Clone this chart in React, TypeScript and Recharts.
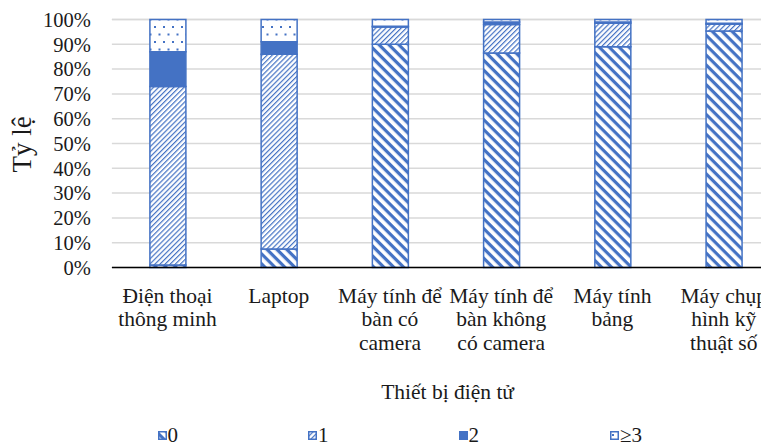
import { BarChart, Bar, XAxis, YAxis, CartesianGrid } from "recharts";

// Devices (line breaks mark where the axis label wraps)
const categories = [
  "Điện thoại\nthông minh",
  "Laptop",
  "Máy tính để\nbàn có\ncamera",
  "Máy tính để\nbàn không\ncó camera",
  "Máy tính\nbảng",
  "Máy chụp\nhình kỹ\nthuật số",
];

// Share of respondents (%) owning 0 / 1 / 2 / ≥3 of each device
const zero = [1, 7.5, 90, 86.5, 89, 95.4];
const one = [72, 78.5, 7, 11.5, 9.5, 2.7];
const two = [14, 5, 0.3, 1, 0.5, 0.4];
const threePlus = [13, 9, 2.7, 1, 1, 1.5];

const yTicks = [0, 10, 20, 30, 40, 50, 60, 70, 80, 90, 100];

const seriesNames = ["0", "1", "2", "≥3"];

const data = categories.map((name, i) => ({
  name,
  zero: zero[i],
  one: one[i],
  two: two[i],
  threePlus: threePlus[i],
}));

const BLUE = "#4472C4";
const FONT = "'Liberation Serif', 'Times New Roman', serif";
const TEXT = "#1a1a1a";

const fills = ["url(#pZero)", "url(#pOne)", BLUE, "url(#pThree)"];

function Patterns() {
  return (
    <defs>
      <pattern id="pZero" width="7" height="7" patternUnits="userSpaceOnUse" patternTransform="rotate(45)">
        <rect width="7" height="7" fill="#fff" />
        <rect width="7" height="3.2" fill={BLUE} />
      </pattern>
      <pattern id="pOne" width="3.6" height="3.6" patternUnits="userSpaceOnUse" patternTransform="rotate(-45)">
        <rect width="3.6" height="3.6" fill="#fff" />
        <rect width="3.6" height="1.2" fill={BLUE} />
      </pattern>
      <pattern id="pThree" width="9" height="15" patternUnits="userSpaceOnUse">
        <rect width="9" height="15" fill="#fff" />
        <rect x="2" y="3" width="2" height="2" fill={BLUE} />
        <rect x="6.5" y="10.5" width="2" height="2" fill={BLUE} />
      </pattern>
    </defs>
  );
}

function CategoryTick({ x, y, payload }: any) {
  const lines = String(payload.value).split("\n");
  return (
    <text x={x} y={y} textAnchor="middle" fontFamily={FONT} fontSize={21.5} fill={TEXT}>
      {lines.map((line, i) => (
        <tspan key={i} x={x} dy={i === 0 ? 27 : 23.5}>
          {line}
        </tspan>
      ))}
    </text>
  );
}

function LegendBox() {
  const lefts = [149.5, 300, 450.5, 602];
  return (
    <div style={{ position: "absolute", left: 0, top: 416, width: 761, height: 22, fontFamily: FONT }}>
      {seriesNames.map((name, i) => (
        <div key={name} style={{ position: "absolute", left: lefts[i], top: 0, display: "flex", alignItems: "center", height: 22 }}>
          <svg width="9" height="9" style={{ display: "block" }}>
            <rect x="0.75" y="0.75" width="7.5" height="7.5" fill={fills[i]} stroke={BLUE} strokeWidth="1.5" />
          </svg>
          <span style={{ fontSize: 21, color: TEXT, marginLeft: 1, lineHeight: "22px" }}>{name}</span>
        </div>
      ))}
    </div>
  );
}

export default function App() {
  return (
    <div style={{ position: "relative", width: 761, height: 438, overflow: "hidden" }}>
      <BarChart
        width={780}
        height={438}
        data={data}
        margin={{ top: 11.5, right: 8.7, left: 0, bottom: 38.5 }}
        barSize={36}
      >
        <Patterns />
        <CartesianGrid vertical={false} stroke="#D9D9D9" strokeWidth={1.5} />
        <XAxis
          dataKey="name"
          height={140}
          interval={0}
          tickLine={false}
          axisLine={{ stroke: "#000", strokeWidth: 1.3 }}
          tick={<CategoryTick />}
          label={{
            content: ({ viewBox }: any) => (
              <text
                x={viewBox.x + viewBox.width / 2 + 2}
                y={384}
                textAnchor="middle"
                dominantBaseline="central"
                fontFamily={FONT}
                fontSize={21.5}
                fill={TEXT}
              >
                Thiết bị điện tử
              </text>
            ),
          }}
        />
        <YAxis
          width={103.9}
          domain={[0, 100]}
          ticks={yTicks}
          interval={0}
          axisLine={false}
          tickLine={false}
          tickSize={0}
          tickMargin={21}
          tickFormatter={(v) => `${v}%`}
          tick={{ fontFamily: FONT, fontSize: 20.5, fill: TEXT }}
          label={{
            content: ({ viewBox }: any) => {
              const cx = 14;
              const cy = viewBox.y + viewBox.height / 2 + 1;
              return (
                <text
                  x={cx}
                  y={cy}
                  transform={`rotate(-90 ${cx} ${cy})`}
                  textAnchor="middle"
                  dominantBaseline="central"
                  fontFamily={FONT}
                  fontSize={27}
                  fill={TEXT}
                >
                  Tỷ lệ
                </text>
              );
            },
          }}
        />
        <Bar dataKey="zero" name="0" stackId="a" fill={fills[0]} stroke={BLUE} strokeWidth={1.5} isAnimationActive={false} />
        <Bar dataKey="one" name="1" stackId="a" fill={fills[1]} stroke={BLUE} strokeWidth={1.5} isAnimationActive={false} />
        <Bar dataKey="two" name="2" stackId="a" fill={fills[2]} stroke={BLUE} strokeWidth={1.5} isAnimationActive={false} />
        <Bar dataKey="threePlus" name="≥3" stackId="a" fill={fills[3]} stroke={BLUE} strokeWidth={1.5} isAnimationActive={false} />
      </BarChart>
      <LegendBox />
    </div>
  );
}
